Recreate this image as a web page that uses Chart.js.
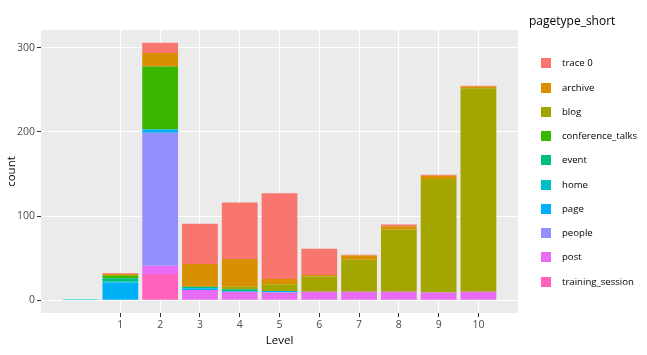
<!DOCTYPE html>
<html>
<head>
<meta charset="utf-8">
<script src="https://cdn.jsdelivr.net/npm/chart.js@4"></script>
<style>
  html, body { margin: 0; padding: 0; background: #fff; }
  #wrap { position: relative; width: 647px; height: 355px; font-family: "Open Sans", sans-serif; }
  #c { position: absolute; left: 0; top: 0; }
  #legend { position: absolute; left: 0; top: 0; width: 647px; height: 355px; pointer-events: none; }
  .lt { position: absolute; left: 529px; font-size: 12px; color: #000; line-height: 14px; white-space: nowrap; }
  .li { position: absolute; left: 540px; height: 14px; white-space: nowrap; font-size: 9.6px; color: #000; line-height: 14px; }
  .sw { position: absolute; left: 1px; top: 2px; width: 10px; height: 10px; }
  .tx { position: absolute; left: 22px; top: 0; }
</style>
</head>
<body>
<div id="wrap">
  <canvas id="c" width="647" height="355"></canvas>
  <div id="legend"></div>
</div>
<script>
// Levels: first bar has no label (missing level), then 1..10
const levels = [0, 1, 2, 3, 4, 5, 6, 7, 8, 9, 10];
const xTickValues = [1, 2, 3, 4, 5, 6, 7, 8, 9, 10];
const yTickValues = [0, 100, 200, 300];

const seriesNames = ["trace 0", "archive", "blog", "conference_talks", "event", "home", "page", "people", "post", "training_session"];
const seriesColors = ["#F8766D", "#D89000", "#A3A500", "#39B600", "#00BF7D", "#00BFC4", "#00B0F6", "#9590FF", "#E76BF3", "#FF62BC"];

const trace0           = [0, 1, 12, 48, 67, 102, 31, 1, 2, 1, 1];
const archive          = [0, 1, 16, 27, 33, 6, 2, 5, 4, 4, 2];
const blog             = [0, 1, 0, 0, 3, 8, 18, 38, 74, 135, 242];
const conference_talks = [0, 3, 75, 0, 0, 0, 0, 0, 0, 0, 0];
const event            = [0, 4, 0, 2, 2, 0, 0, 0, 0, 0, 0];
const home             = [1, 1, 0, 0, 0, 0, 0, 0, 0, 0, 0];
const page             = [0, 21, 4, 2, 1, 2, 0, 0, 0, 0, 0];
const people           = [0, 0, 158, 0, 0, 0, 0, 0, 0, 0, 0];
const post             = [0, 0, 10, 12, 10, 9, 10, 10, 10, 9, 10];
const training_session = [0, 0, 31, 0, 0, 0, 0, 0, 0, 0, 0];

const seriesValues = [trace0, archive, blog, conference_talks, event, home, page, people, post, training_session];

// ggplot stacks the first level on top, so build datasets bottom-up (reversed)
const datasets = [];
for (let i = seriesNames.length - 1; i >= 0; i--) {
  datasets.push({
    label: seriesNames[i],
    data: levels.map((lv, j) => ({ x: lv, y: seriesValues[i][j] })),
    backgroundColor: seriesColors[i],
    borderWidth: 0,
    barPercentage: 0.9,
    categoryPercentage: 1.0
  });
}

const panelBg = {
  id: 'panelBg',
  beforeDraw(chart) {
    const { ctx, chartArea: a } = chart;
    ctx.save();
    ctx.fillStyle = '#EBEBEB';
    ctx.fillRect(a.left, a.top, a.right - a.left, a.bottom - a.top);
    ctx.restore();
  }
};

const FONT = '"Open Sans", sans-serif';

new Chart(document.getElementById('c'), {
  type: 'bar',
  data: { datasets },
  plugins: [panelBg],
  options: {
    responsive: false,
    animation: false,
    events: [],
    layout: { padding: { top: 30, right: 129, left: 0, bottom: 0 } },
    plugins: { legend: { display: false }, tooltip: { enabled: false } },
    scales: {
      x: {
        type: 'linear',
        stacked: true,
        offset: false,
        min: -0.995,
        max: 10.995,
        afterBuildTicks(s) { s.ticks = xTickValues.map(v => ({ value: v })); },
        afterFit(s) { s.height = 42; },
        grid: { color: '#FFFFFF', lineWidth: 1, offset: false, drawTicks: true, tickColor: '#333333', tickLength: 4, tickWidth: 1 },
        border: { display: false },
        ticks: { color: '#4D4D4D', font: { family: FONT, size: 10.5 }, padding: 2, maxRotation: 0, autoSkip: false },
        title: { display: true, text: 'Level', color: '#000', font: { family: FONT, size: 11.5 }, padding: { top: 0, bottom: 7 } }
      },
      y: {
        stacked: true,
        min: -15.3,
        max: 321.3,
        afterBuildTicks(s) { s.ticks = yTickValues.map(v => ({ value: v })); },
        afterFit(s) { s.width = 41; },
        grid: { color: '#FFFFFF', lineWidth: 1, drawTicks: true, tickColor: '#333333', tickLength: 4, tickWidth: 1 },
        border: { display: false },
        ticks: { color: '#4D4D4D', font: { family: FONT, size: 10.5 }, padding: 2 },
        title: { display: true, text: 'count', color: '#000', font: { family: FONT, size: 11.5 }, padding: { top: 5, bottom: 0 } }
      }
    }
  }
});

// HTML legend built from the same arrays
const lg = document.getElementById('legend');
const t = document.createElement('div');
t.className = 'lt';
t.style.top = (20.7 - 7) + 'px';
t.textContent = 'pagetype_short';
lg.appendChild(t);
seriesNames.forEach((n, i) => {
  const it = document.createElement('div');
  it.className = 'li';
  it.style.top = (63.3 + 24.27 * i - 7) + 'px';
  const sw = document.createElement('span');
  sw.className = 'sw';
  sw.style.background = seriesColors[i];
  const tx = document.createElement('span');
  tx.className = 'tx';
  tx.textContent = n;
  it.appendChild(sw);
  it.appendChild(tx);
  lg.appendChild(it);
});
</script>
</body>
</html>
